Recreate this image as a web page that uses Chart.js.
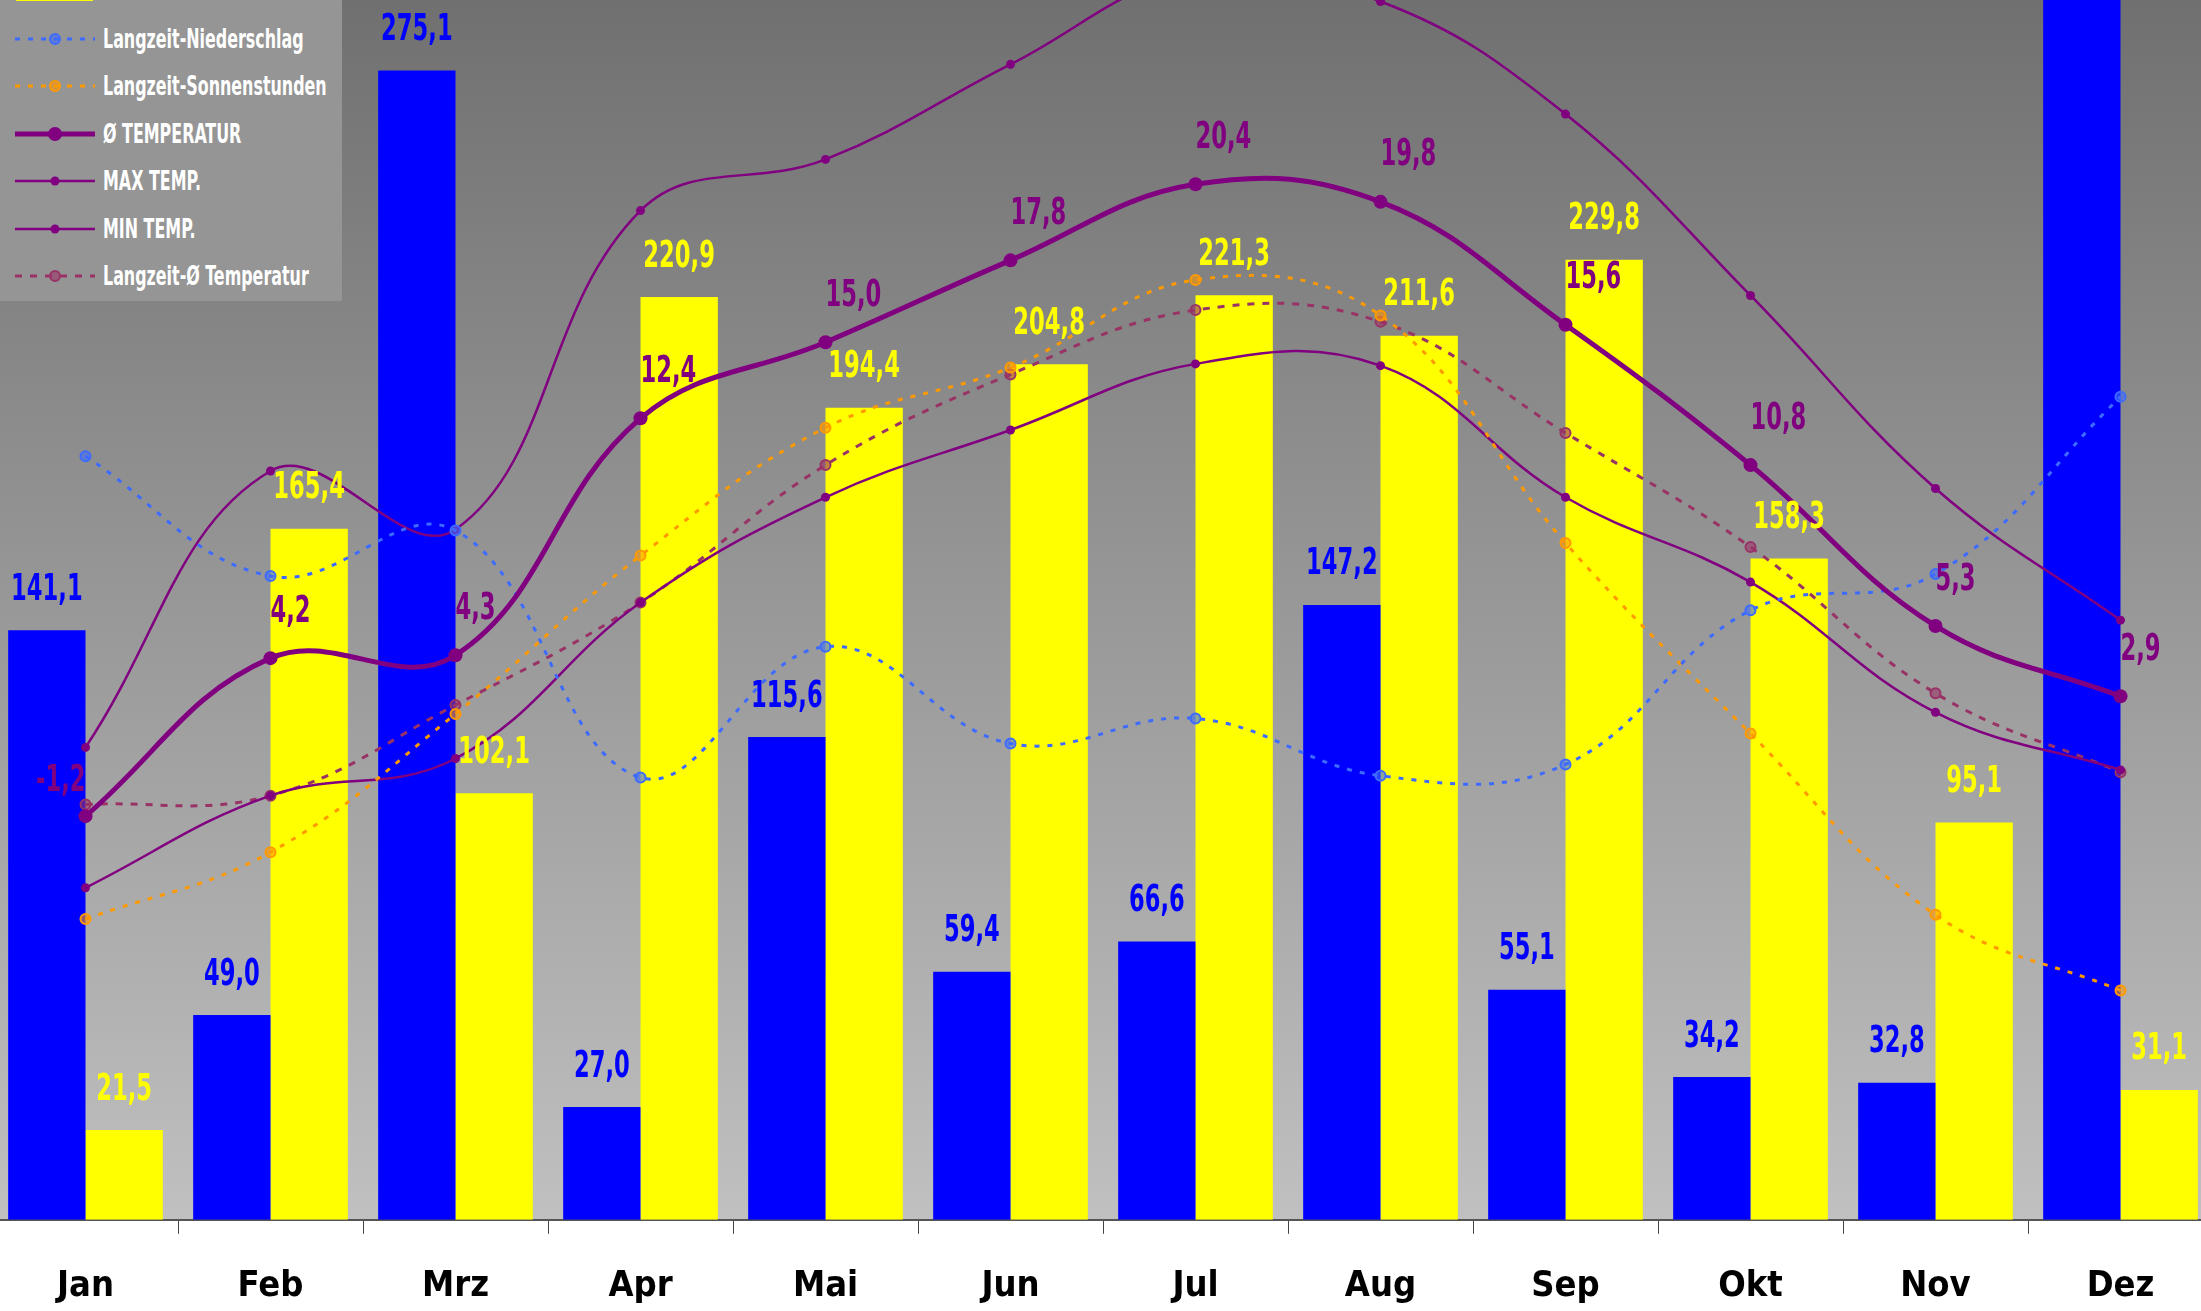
<!DOCTYPE html>
<html lang="de">
<head>
<meta charset="utf-8">
<title>Klimadiagramm</title>
<script src="https://cdn.jsdelivr.net/npm/chart.js@4.4.1/dist/chart.umd.min.js"></script>
<style>
  html, body { margin: 0; padding: 0; background: #fff; overflow: hidden; }
  #wrap { position: relative; width: 2201px; height: 1311px; overflow: hidden; }
  /* canvas a bit taller than the page: chart.js doubles the tick padding below the labels */
  #chart { position: absolute; left: -7px; top: 0; }
  #legend {
    position: absolute; left: 0; top: -80px; width: 342px; height: 381px;
    background: #959595; color: #fff;
    font: bold 26px "DejaVu Sans Condensed", "DejaVu Sans", sans-serif;
  }
  #legend .item { height: 47.5px; display: flex; align-items: center; white-space: nowrap; }
  #legend svg { margin-left: 15px; margin-right: 8px; flex: none; }
  #legend span { display: inline-block; transform: scaleX(0.68); transform-origin: left center; }
</style>
</head>
<body>
<div id="wrap">
  <canvas id="chart" width="2220" height="1339"></canvas>
  <div id="legend"></div>
</div>
<script>
const FONT = '"DejaVu Sans Condensed", "DejaVu Sans", sans-serif';

const months = ['Jan', 'Feb', 'Mrz', 'Apr', 'Mai', 'Jun', 'Jul', 'Aug', 'Sep', 'Okt', 'Nov', 'Dez'];
// bars (mm / hours)
const niederschlag = [141.1, 49.0, 275.1, 27.0, 115.6, 59.4, 66.6, 147.2, 55.1, 34.2, 32.8, 318.0];
const sonnenstunden = [21.5, 165.4, 102.1, 220.9, 194.4, 204.8, 221.3, 211.6, 229.8, 158.3, 95.1, 31.1];
// long-term lines on the bar scale
const lzNiederschlag = [182.8, 154.1, 165.0, 105.9, 137.2, 114.0, 120.0, 106.3, 109.0, 145.9, 154.6, 197.0];
const lzSonnenstunden = [72.0, 88.0, 121.1, 159.0, 189.6, 204.0, 225.0, 216.5, 162.0, 116.4, 73.0, 54.9];
// temperatures
const tempAvg = [-1.2, 4.2, 4.3, 12.4, 15.0, 17.8, 20.4, 19.8, 15.6, 10.8, 5.3, 2.9];
const tempMax = [1.15, 10.6, 8.6, 19.5, 21.25, 24.5, 27.6, 26.65, 22.8, 16.6, 10.0, 5.5];
const tempMin = [-3.65, -0.5, 0.77, 6.1, 9.7, 12.0, 14.26, 14.2, 9.7, 6.8, 2.35, 0.38];
const lzTemp = [-0.8, -0.5, 2.6, 6.1, 10.8, 13.9, 16.1, 15.7, 11.9, 8.0, 3.0, 0.3];

const fmt = v => v.toFixed(1).replace('.', ',');

// which datasets get value labels, and in what colour
const labelColors = { 0: '#0000ff', 1: '#ffff00', 4: '#800080' };

const plotBackground = {
  id: 'plotBackground',
  beforeDraw(chart) {
    const { ctx, chartArea: a } = chart;
    const g = ctx.createLinearGradient(0, a.top, 0, a.bottom);
    g.addColorStop(0, '#707070');
    g.addColorStop(1, '#c0c0c0');
    ctx.save();
    ctx.fillStyle = g;
    ctx.fillRect(a.left, a.top, a.width, a.height);
    ctx.restore();
  }
};

// condensed text: the original uses a narrow DIN-like face
function narrowText(ctx, txt, x, y, align) {
  const k = 0.68;
  ctx.save();
  ctx.translate(x, y);
  ctx.scale(k, 1);
  ctx.textAlign = align;
  ctx.fillText(txt, 0, 0);
  ctx.restore();
}

const valueLabels = {
  id: 'valueLabels',
  afterDatasetsDraw(chart) {
    const ctx = chart.ctx;
    ctx.save();
    ctx.font = 'bold 37px ' + FONT;
    ctx.textBaseline = 'middle';
    chart.data.datasets.forEach((ds, i) => {
      const color = labelColors[i];
      if (!color) return;
      ctx.fillStyle = color;
      chart.getDatasetMeta(i).data.forEach((el, j) => {
        const txt = fmt(ds.data[j]);
        if (ds.type === 'bar') {
          narrowText(ctx, txt, el.x, el.y - 40, 'center');
        } else if (j === 0) {
          narrowText(ctx, txt, el.x, el.y - 35, 'right');
        } else {
          narrowText(ctx, txt, el.x, el.y - 46, 'left');
        }
      });
    });
    ctx.restore();
  }
};

function dotted(label, data, color, fill, dash, axis) {
  return {
    type: 'line', label, data, yAxisID: axis, order: 1,
    borderColor: color, borderWidth: 3, borderDash: dash, tension: 0.4,
    pointRadius: 5, pointBorderWidth: 2, pointBorderColor: color, pointBackgroundColor: fill
  };
}

function tempLine(label, data, width, radius, order) {
  return {
    type: 'line', label, data, yAxisID: 'yTemp', order,
    borderColor: '#800080', borderWidth: width, tension: 0.4,
    pointRadius: radius, pointBorderWidth: 0, pointBackgroundColor: '#800080'
  };
}

const chart = new Chart(document.getElementById('chart'), {
  data: {
    labels: months,
    datasets: [
      { type: 'bar', label: 'Niederschlag', data: niederschlag, backgroundColor: '#0000ff', yAxisID: 'yBars', order: 2 },
      { type: 'bar', label: 'Sonnenstunden', data: sonnenstunden, backgroundColor: '#ffff00', yAxisID: 'yBars', order: 2 },
      dotted('Langzeit-Niederschlag', lzNiederschlag, '#3d6bff', 'rgba(61,107,255,0.6)', [5, 8], 'yBars'),
      dotted('Langzeit-Sonnenstunden', lzSonnenstunden, '#ff9900', 'rgba(255,153,0,0.6)', [5, 8], 'yBars'),
      tempLine('Ø TEMPERATUR', tempAvg, 5, 7, 0),
      tempLine('MAX TEMP.', tempMax, 2.5, 4.5, 1),
      tempLine('MIN TEMP.', tempMin, 2.5, 4.5, 1),
      dotted('Langzeit-Ø Temperatur', lzTemp, '#993366', 'rgba(153,51,102,0.6)', [7, 8], 'yTemp')
    ]
  },
  options: {
    responsive: false,
    animation: false,
    layout: { padding: 0, autoPadding: false },
    datasets: { bar: { barPercentage: 1, categoryPercentage: 0.836 } },
    plugins: { legend: { display: false }, tooltip: { enabled: false } },
    scales: {
      x: {
        offset: true,
        grid: { offset: true, drawOnChartArea: false, drawTicks: true, tickLength: 14, color: '#444', lineWidth: 1 },
        border: { color: '#555', width: 2 },
        ticks: { color: '#000', padding: 31, font: { family: FONT, size: 36, weight: 'bold' } }
      },
      yBars: { display: false, min: 0, max: 292 },
      yTemp: { display: false, min: -15, max: 26.7 }
    }
  },
  plugins: [plotBackground, valueLabels]
});

// legend drawn as html over the top-left corner (its first rows run off the top)
const legendEl = document.getElementById('legend');
chart.data.datasets.forEach(ds => {
  let sample;
  if (ds.type === 'bar') {
    sample = `<svg width="80" height="20"><rect x="1" y="0" width="77" height="20" fill="${ds.backgroundColor}"/></svg>`;
  } else {
    const dash = ds.borderDash ? `stroke-dasharray="${ds.borderDash.join(' ')}"` : '';
    sample = `<svg width="80" height="20">` +
      `<line x1="0" y1="10" x2="80" y2="10" stroke="${ds.borderColor}" stroke-width="${ds.borderWidth}" ${dash}/>` +
      `<circle cx="40" cy="10" r="${ds.pointRadius}" fill="${ds.pointBackgroundColor}" stroke="${ds.borderColor}" stroke-width="${ds.pointBorderWidth}"/></svg>`;
  }
  const row = document.createElement('div');
  row.className = 'item';
  row.innerHTML = sample + '<span>' + ds.label + '</span>';
  legendEl.appendChild(row);
});
</script>
</body>
</html>
